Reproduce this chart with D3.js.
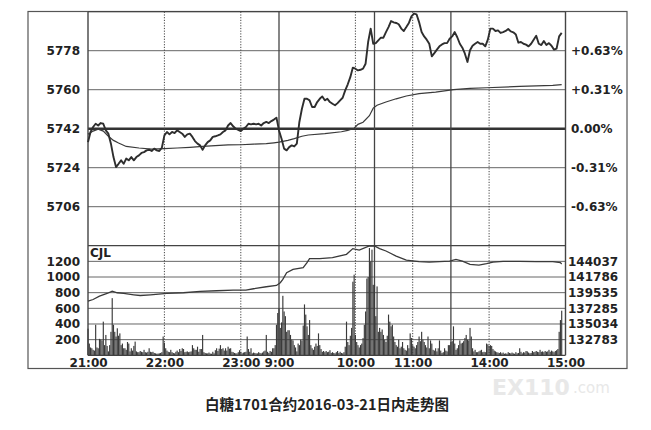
<!DOCTYPE html>
<html><head><meta charset="utf-8">
<script src="https://cdn.jsdelivr.net/npm/d3@7"></script>
<style>
html,body{margin:0;padding:0;background:#fff;}
svg{display:block;}
</style></head><body>
<svg id="c" width="651" height="430"></svg>
<script>
// ---- data (minute index = trading minutes since 21:00; sessions 21:00-23:30, 9:00-10:15, 10:30-11:30, 13:30-15:00)
const priceStep = 2;
const price = [
5735.8,5740.5,5742.8,5744.3,5743.5,5744.6,5744.3,5741.2,5739.7,5735.1,
5728.9,5724.3,5725.8,5727.4,5725.8,5728.2,5727.4,5728.9,5727.4,5728.9,
5729.7,5730.8,5731.2,5732,5732.3,5731.7,5732.8,5732,5731.7,5733.2,
5738.9,5740.5,5739.4,5740.5,5740,5741.2,5740.5,5739.7,5738.2,5739.4,
5739.7,5738.2,5736.3,5735.1,5734.3,5732.3,5734.3,5735.8,5736.6,5738.2,
5738.5,5738.9,5739.4,5740.5,5741.2,5743.5,5744.6,5743.1,5742,5741.5,
5740.9,5742,5742.8,5744.3,5744,5744.3,5744,5744.3,5743.5,5744.6,
5745.1,5744.6,5745.5,5746.2,5747.1,
5741.2,5737.4,5732.8,5732,5733.5,5734.3,5733.8,5735.1,5745.1,5751.2,
5755.8,5755.8,5755.1,5752,5752,5754.3,5755.8,5756.9,5755.1,5755.8,
5754.3,5753.5,5752.8,5753.8,5755.1,5756.3,5759.7,5762.5,5765.8,5770.2,
5769.7,5768.9,5769.2,5769.7,5772,5782,5788.2,5781.2,
5781.5,5782.8,5784,5784,5786.6,5788.9,5791.7,5791.1,5790.8,5790.2,
5788.2,5787.1,5788.9,5790.8,5793.8,5795.1,5794.8,5791.2,5786.6,5784.6,
5783.1,5781.2,5775.4,5776.9,5778.5,5780,5780.9,5781.5,5781.5,5783.5,
5784.6,5786.6,5784.2,5781.2,5779.4,5776.6,5772.8,5778.2,5780.3,5781.2,
5782,5781.2,5781.2,5780,5783.1,5788.2,5788.2,5787.1,5787.4,5786.2,
5786.6,5787.1,5788,5786.9,5786.5,5785.5,5781.7,5782,5781.2,5780.8,
5780,5781.2,5783.1,5784.9,5781.2,5780.6,5782.5,5780.6,5781.5,5780.3,
5778.5,5779,5784.6,5786.2
];
const avgMin = [0,4,8,12,16,20,24,30,40,50,60,70,80,90,100,110,120,130,140,146,150,157,162,168,173,186,199,204,209,212,216,221,224,227,234,242,250,260,273,287,300,313,339,365,372];
const avgVal = [5739.4,5740.9,5741.8,5740.9,5738.5,5736.6,5735.4,5733.8,5733.1,5732.6,5732.8,5733.1,5733.4,5733.8,5734.2,5734.5,5734.6,5734.9,5735.1,5735.5,5735.8,5736.6,5737.4,5738.5,5739.1,5739.7,5740.6,5741.2,5742.2,5744,5745,5748,5751.5,5752.8,5754.3,5755.8,5757.1,5758.2,5758.9,5760,5760.6,5760.9,5761.5,5762,5762.3];
const volume = [
340,150,100,90,70,60,390,100,90,210,
200,190,430,130,260,120,50,130,300,730,
390,300,240,345,250,280,130,150,90,90,
70,170,150,50,90,60,120,175,50,40,
40,55,45,40,70,40,35,45,90,45,
40,45,30,25,20,22,25,30,40,240,
160,90,60,45,40,70,40,30,25,45,
60,40,80,55,90,80,40,45,50,40,
45,50,130,90,70,70,110,45,80,80,
260,40,30,25,25,35,22,20,45,25,
65,90,55,85,130,80,90,60,90,60,
110,85,90,45,40,30,25,25,40,65,
45,25,35,40,45,240,80,45,90,25,
35,30,25,25,40,30,25,35,50,60,
260,45,30,55,45,90,90,130,390,540,
600,350,420,760,560,500,300,320,320,260,
200,190,130,100,50,150,130,200,190,380,
650,520,370,260,450,130,90,70,110,150,
120,280,130,80,45,55,40,55,40,45,
65,30,40,30,25,40,55,30,45,30,
25,40,110,430,170,130,250,350,940,1030,
260,170,130,100,130,150,220,390,560,980,
1000,1370,1200,1350,900,900,500,880,300,350,
300,330,260,200,170,250,520,430,370,390,
240,170,130,110,200,90,110,170,90,70,
60,130,90,280,220,130,110,90,130,170,
240,180,300,200,170,130,100,240,90,190,
150,70,60,90,50,90,190,60,30,40,
90,60,50,130,130,170,180,370,150,70,
90,130,190,150,160,180,220,260,200,190,
350,240,90,50,70,40,40,50,60,70,
40,45,40,150,140,120,130,120,80,60,
50,40,35,30,40,25,35,20,25,20,
40,30,25,35,25,20,40,25,30,90,
45,25,40,35,55,50,35,25,30,55,
40,45,55,45,40,70,45,50,40,55,
45,50,70,45,60,50,40,55,65,80,
300,450,570
];
const oiMin = [0,4,9,15,19,23,28,36,41,49,62,75,88,101,114,124,130,140,148,151,153,156,161,169,172,174,182,192,203,208,213,221,225,229,234,242,250,260,268,276,284,289,294,300,307,313,318,326,339,352,365,371,372];
const oiVal = [138310,138555,139031,139421,139753,139522,139421,139233,139132,139233,139421,139522,139709,139810,139897,139897,140099,140388,140575,140965,141441,142408,142884,143129,143851,144428,144428,144572,145049,145871,145669,146246,146246,145871,145525,144803,144226,143995,143937,143995,144082,144327,144082,143606,143504,143707,143937,144038,144038,143995,143995,143851,143659];

const priceTicks = [5778,5760,5742,5724,5706];
const pctLabels = ["+0.63%","+0.31%","0.00%","-0.31%","-0.63%"];
const volTicks = [1200,1000,800,600,400,200];
const oiTicks = [144037,141786,139535,137285,135034,132783];
const timeTicks = [0,60,120,150,210,255,315,375];
const timeLabels = ["21:00","22:00","23:00","9:00","10:00","11:00","14:00","15:00"];
const sessionBreaks = [150,225,285];
const dottedTimes = [60,120,210,255,315];
const basePrice = 5742;
const volTitle = "CJL";
const caption = "白糖1701合约2016-03-21日内走势图";

// ---- layout
const L = 88, R = 565.5, T = 11.7, MID = 245.7, B = 355.3;
const svg = d3.select("#c");
const FONT = "'DejaVu Sans', sans-serif";
const ink = "#222";

const x = d3.scaleLinear().domain([0, 375]).range([L, R]);
const yP = d3.scaleLinear().domain([5688, 5796]).range([MID, T]);
const yV = d3.scaleLinear().domain([0, 1400]).range([B, MID]);
const yOI = d3.scaleLinear().domain([130532, 130532 + 1400 * 2251 / 200]).range([B, MID]);

// watermark (behind)
svg.append("text").attr("x", 492).attr("y", 395).text("EX110")
  .attr("font-family", FONT).attr("font-weight", "bold").attr("font-size", 22).attr("fill", "#e8e8e8");
svg.append("text").attr("x", 573).attr("y", 393).text(".com")
  .attr("font-family", FONT).attr("font-size", 15).attr("fill", "#e8e8e8");

// outer frame
svg.append("rect").attr("x", 28).attr("y", 11.5).attr("width", 599).attr("height", 357)
  .attr("fill", "none").attr("stroke", "#555").attr("stroke-width", 1.2);

// horizontal grid
const g = svg.append("g");
priceTicks.forEach(v => {
  g.append("line").attr("x1", L).attr("x2", R).attr("y1", yP(v)).attr("y2", yP(v))
   .attr("stroke", v === basePrice ? "#333" : "#666").attr("stroke-width", v === basePrice ? 2.6 : 1);
});
volTicks.forEach(v => {
  g.append("line").attr("x1", L).attr("x2", R).attr("y1", yV(v)).attr("y2", yV(v))
   .attr("stroke", "#666").attr("stroke-width", 1);
});
[T, MID, B].forEach(yy => {
  g.append("line").attr("x1", L).attr("x2", R).attr("y1", yy).attr("y2", yy)
   .attr("stroke", "#444").attr("stroke-width", 1.2);
});
// vertical lines
dottedTimes.forEach(m => {
  g.append("line").attr("x1", x(m)).attr("x2", x(m)).attr("y1", T).attr("y2", B)
   .attr("stroke", "#444").attr("stroke-width", 1).attr("stroke-dasharray", "1.2,1.5");
});
sessionBreaks.forEach(m => {
  g.append("line").attr("x1", x(m)).attr("x2", x(m)).attr("y1", T).attr("y2", B)
   .attr("stroke", "#444").attr("stroke-width", 1.3);
});
[L, R].forEach(xx => {
  g.append("line").attr("x1", xx).attr("x2", xx).attr("y1", T).attr("y2", B)
   .attr("stroke", "#444").attr("stroke-width", 1.4);
});

// volume bars
svg.append("g").selectAll("rect").data(volume).join("rect")
  .attr("x", (d, i) => x(i) - 0.55).attr("width", 1.15)
  .attr("y", d => yV(d)).attr("height", d => B - yV(d))
  .attr("fill", "#3a3a3a");

// open interest line
svg.append("path").datum(oiMin.map((m, i) => [m, oiVal[i]]))
  .attr("fill", "none").attr("stroke", "#3a3a3a").attr("stroke-width", 1.3)
  .attr("d", d3.line().x(d => x(d[0])).y(d => yOI(d[1])));

// average price line
svg.append("path").datum(avgMin.map((m, i) => [m, avgVal[i]]))
  .attr("fill", "none").attr("stroke", "#3a3a3a").attr("stroke-width", 1.2)
  .attr("d", d3.line().x(d => x(d[0])).y(d => yP(d[1])));

// price line
svg.append("path").datum(price)
  .attr("fill", "none").attr("stroke", "#2e2e2e").attr("stroke-width", 1.9)
  .attr("stroke-linejoin", "round")
  .attr("d", d3.line().x((d, i) => x(i * priceStep)).y(d => yP(d)));

// axes
function styleAxis(sel) {
  sel.select(".domain").remove();
  sel.selectAll(".tick line").remove();
  sel.selectAll("text").attr("font-family", FONT).attr("font-weight", "bold")
    .attr("font-size", 12).attr("fill", ink);
}
svg.append("g").attr("transform", `translate(${L},0)`)
  .call(d3.axisLeft(yP).tickValues(priceTicks).tickFormat(d3.format("d")).tickSize(0).tickPadding(8))
  .call(styleAxis);
svg.append("g").attr("transform", `translate(${L},0)`)
  .call(d3.axisLeft(yV).tickValues(volTicks).tickFormat(d3.format("d")).tickSize(0).tickPadding(8))
  .call(styleAxis);
svg.append("g").attr("transform", `translate(${R},0)`)
  .call(d3.axisRight(yP).tickValues(priceTicks).tickFormat((d, i) => pctLabels[i]).tickSize(0).tickPadding(5.5))
  .call(styleAxis);
svg.append("g").attr("transform", `translate(${R},0)`)
  .call(d3.axisRight(yOI).tickValues(oiTicks).tickFormat(d3.format("d")).tickSize(0).tickPadding(2.5))
  .call(styleAxis);
svg.append("g").attr("transform", `translate(0,${B})`)
  .call(d3.axisBottom(x).tickValues(timeTicks).tickFormat((d, i) => timeLabels[i]).tickSize(0).tickPadding(3))
  .call(styleAxis);

// panel title
svg.append("text").attr("x", L + 2).attr("y", 256.5).text(volTitle)
  .attr("font-family", FONT).attr("font-weight", "bold").attr("font-size", 12).attr("fill", ink);

// caption
svg.append("text").attr("x", 327).attr("y", 409.5).attr("text-anchor", "middle").text(caption)
  .attr("font-family", "'Noto Sans CJK SC', sans-serif").attr("font-weight", "bold")
  .attr("font-size", 14.5).attr("fill", ink);
</script>
</body></html>
